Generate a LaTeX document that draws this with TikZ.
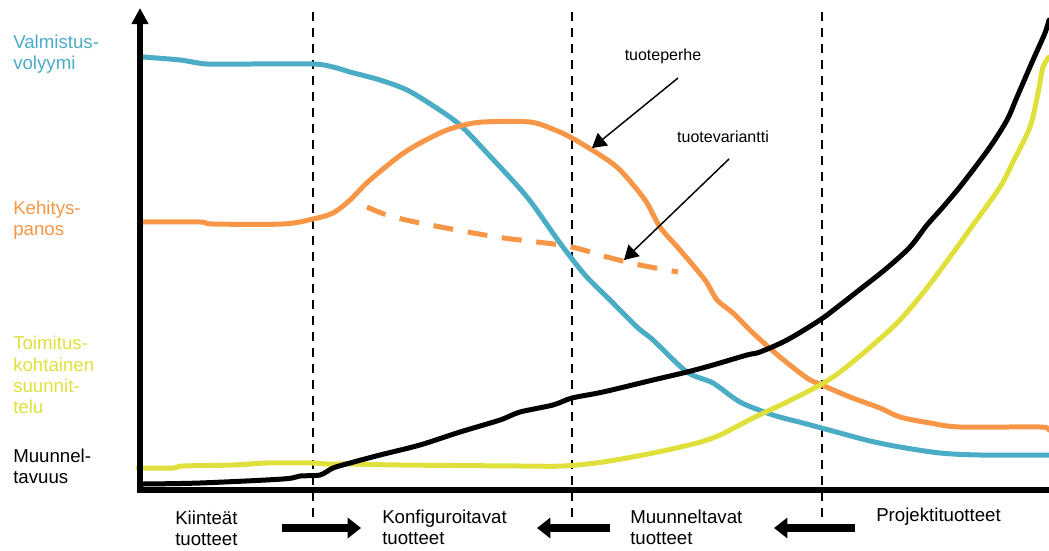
\documentclass[tikz,border=0pt]{standalone}
\usepackage{fontspec}
\setmainfont{Liberation Sans}
\usetikzlibrary{arrows.meta}
\definecolor{cblue}{RGB}{75,172,198}
\definecolor{corange}{RGB}{247,150,70}
\definecolor{cyellow}{RGB}{224,224,60}
\tikzset{
  lbl/.style={anchor=west,inner sep=0pt,align=left,font=\fontsize{14}{16}\selectfont},
  ann/.style={inner sep=0pt,font=\fontsize{12}{14}\selectfont},
  curve/.style={line width=3.75pt,line join=round,line cap=round},
  axisline/.style={line width=3.9pt},
  divider/.style={line width=1.5pt,dash pattern=on 7pt off 5pt},
  blockarrow/.style={line width=6pt,-{Triangle[length=10pt,width=15pt]}},
  pointer/.style={line width=1.1pt,-{Triangle[length=10.5pt,width=12pt]}},
}
\begin{document}
\begin{tikzpicture}[x=0.75pt,y=-0.75pt]
\useasboundingbox (0,0) rectangle (1049,550);

% dividers
\foreach \xx/\nm in {313/a,572/b,822/c}{
  \coordinate (dt\nm) at (\xx,12);
  \coordinate (db\nm) at (\xx,528);
  \draw[divider] (dt\nm) -- (db\nm);
}

% curves
\draw[curve,cblue] plot[smooth,tension=0.5] coordinates {
(143,57) (180,60) (207,64) (250,64) (313,64) (333,67) (350,72) (380,80) (407,90) (435,107) (460,125) (487,153) (527,197) (560,243) (585,275) (610,300) (637,327) (653,340) (687,372) (713,383) (740,402) (773,415) (803,423) (840,433) (870,441) (900,447) (940,453) (980,455) (1049,455)};

\draw[curve,corange] plot[smooth,tension=0.5] coordinates {
(143,222) (200,222) (213,224) (283,224) (313,219) (333,213) (350,200) (370,180) (405,152) (440,133) (460,126) (483,122) (530,122) (555,130) (572,138) (600,155) (620,170) (645,200) (660,227) (680,250) (705,280) (717,300) (733,313) (753,333) (780,357) (807,378) (822,385) (850,397) (880,408) (900,417) (930,423) (960,427) (1040,427) (1049,430)};

\draw[curve,corange,line cap=butt,dash pattern=on 15pt off 11pt] plot[smooth,tension=0.5] coordinates {
(367,207) (387,215) (420,223) (497,237) (567,246) (607,257) (640,265) (678,272)};

\draw[curve,cyellow] plot[smooth,tension=0.5] coordinates {
(138,468) (173,468) (183,466) (233,465) (267,463) (313,463) (327,464) (350,464) (400,465) (520,466) (563,466) (603,462) (653,453) (697,443) (720,435) (753,418) (787,402) (820,385) (840,372) (867,350) (897,323) (923,293) (950,257) (973,225) (1000,187) (1013,162) (1030,127) (1038,93) (1043,67) (1049,57)};

\draw[curve,black] plot[smooth,tension=0.5] coordinates {
(143,484) (200,483) (283,479) (300,476) (320,475) (333,468) (350,463) (380,455) (420,445) (460,432) (500,420) (520,412) (553,405) (572,398) (603,392) (653,380) (687,372) (713,365) (747,355) (760,352) (787,340) (820,320) (840,305) (863,287) (887,268) (910,247) (927,225) (943,207) (963,183) (990,147) (1007,120) (1017,97) (1033,60) (1045,33) (1049,20)};

% axes
\coordinate (origin) at (140,490);
\coordinate (ytop) at (140,8);
\coordinate (xend) at (1049,490);
\draw[axisline,-{Triangle[length=12pt,width=12pt]}] (origin) -- (ytop);
\draw[axisline] (137,490) -- (xend);

% left labels
\node[lbl,text=cblue] (lv) at (13,54) {Valmistus-\\volyymi};
\node[lbl,text=corange] (lk) at (13,220) {Kehitys-\\panos};
\node[lbl,text=cyellow] (lt) at (13,375) {Toimitus-\\kohtainen\\suunnit-\\telu};
\node[lbl] (lm) at (13,466) {Muunnel-\\tavuus};

% bottom labels
\node[lbl] (bk) at (175,528) {Kiinteät\\tuotteet};
\node[lbl] (bc) at (382,527) {Konfiguroitavat\\tuotteet};
\node[lbl] (bm) at (630,527) {Muunneltavat\\tuotteet};
\node[lbl] (bp) at (876,517) {Projektituotteet};

% bottom block arrows
\coordinate (a1s) at (282,528); \coordinate (a1e) at (361,528);
\coordinate (a2s) at (610,528); \coordinate (a2e) at (537,528);
\coordinate (a3s) at (855,528); \coordinate (a3e) at (774,528);
\draw[blockarrow] (a1s) -- (a1e);
\draw[blockarrow] (a2s) -- (a2e);
\draw[blockarrow] (a3s) -- (a3e);

% annotations
\node[ann] (tp) at (663,56) {tuoteperhe};
\node[ann] (tv) at (723,137) {tuotevariantti};
\coordinate (tps) at (678,78); \coordinate (tpe) at (592,148);
\coordinate (tvs) at (729,159); \coordinate (tve) at (624,260);
\draw[pointer] (tps) -- (tpe);
\draw[pointer] (tvs) -- (tve);
\end{tikzpicture}
\end{document}
